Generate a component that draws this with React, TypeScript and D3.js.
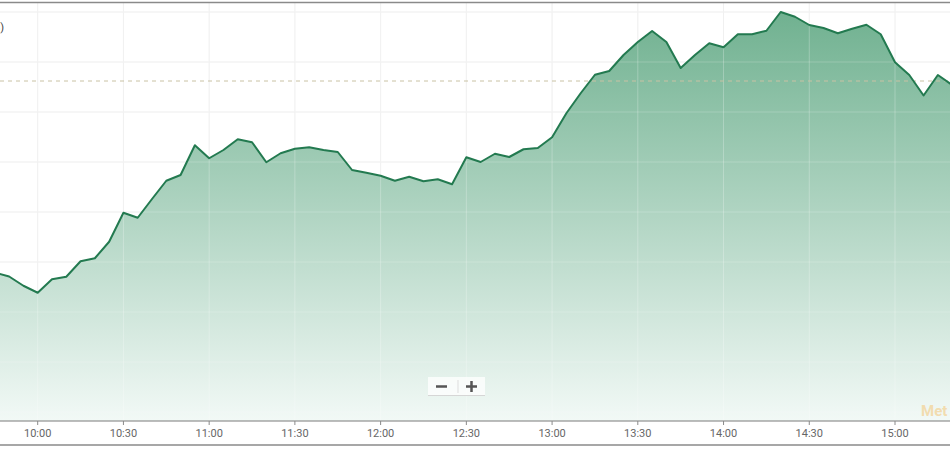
import React from "react";
import * as d3 from "d3";

const times: string[] = [
  "09:45","09:50","09:55","10:00","10:05","10:10","10:15","10:20","10:25","10:30",
  "10:35","10:40","10:45","10:50","10:55","11:00","11:05","11:10","11:15","11:20",
  "11:25","11:30","11:35","11:40","11:45","11:50","11:55","12:00","12:05","12:10",
  "12:15","12:20","12:25","12:30","12:35","12:40","12:45","12:50","12:55","13:00",
  "13:05","13:10","13:15","13:20","13:25","13:30","13:35","13:40","13:45","13:50",
  "13:55","14:00","14:05","14:10","14:15","14:20","14:25","14:30","14:35","14:40",
  "14:45","14:50","14:55","15:00","15:05","15:10","15:15","15:20"
];

const values: number[] = [
  1209.58,1209.42,1209.05,1208.77,1209.31,1209.41,1210.03,1210.15,1210.81,1211.97,
  1211.77,1212.52,1213.25,1213.48,1214.67,1214.15,1214.48,1214.91,1214.79,1213.99,
  1214.35,1214.53,1214.59,1214.48,1214.40,1213.68,1213.57,1213.45,1213.25,1213.41,
  1213.23,1213.31,1213.11,1214.19,1214.00,1214.33,1214.20,1214.51,1214.56,1214.99,
  1215.95,1216.75,1217.49,1217.64,1218.28,1218.80,1219.24,1218.80,1217.76,1218.28,
  1218.75,1218.59,1219.11,1219.11,1219.25,1220.00,1219.81,1219.48,1219.36,1219.15,
  1219.33,1219.49,1219.11,1217.99,1217.48,1216.66,1217.48,1217.08
];

const referenceValue = 1217.24;
const tickLabels: string[] = ["10:00","10:30","11:00","11:30","12:00","12:30","13:00","13:30","14:00","14:30","15:00"];
const gridValues: number[] = [1204, 1206, 1208, 1210, 1212, 1214, 1216, 1218, 1220];

const W = 950;
const H = 450;
const AXIS_Y = 421;

const parse = d3.timeParse("%H:%M");

export default function App() {
  const x = d3.scaleTime()
    .domain([parse("10:00") as Date, parse("15:00") as Date])
    .range([37.7, 895]);
  const y = d3.scaleLinear().domain([1204, 1220]).range([412, 12]);

  const data = times.map((t, i) => ({ t: parse(t) as Date, v: values[i] }));
  const line = d3.line<{ t: Date; v: number }>().x(d => x(d.t)).y(d => y(d.v));
  const area = d3.area<{ t: Date; v: number }>().x(d => x(d.t)).y0(AXIS_Y).y1(d => y(d.v));
  const fmt = d3.timeFormat("%H:%M");

  return (
    <svg width={W} height={H} style={{ position: "absolute", left: 0, top: 0, background: "#fff" }}
      fontFamily="Roboto, 'Open Sans', sans-serif">
      <defs>
        <linearGradient id="fillGrad" gradientUnits="userSpaceOnUse" x1="0" y1={12} x2="0" y2={AXIS_Y}>
          <stop offset="0" stopColor="#70b190" />
          <stop offset="1" stopColor="#f2f9f6" />
        </linearGradient>
        <clipPath id="plotClip">
          <rect x={0} y={0} width={W} height={AXIS_Y} />
        </clipPath>
      </defs>
      <rect x={0} y={0} width={W} height={H} fill="#fff" />
      {/* horizontal grid */}
      {gridValues.map(g => (
        <line key={"h" + g} x1={0} x2={W} y1={y(g)} y2={y(g)} stroke="#ececec" strokeWidth={1} />
      ))}
      {/* vertical grid */}
      {tickLabels.map(t => {
        const xx = x(parse(t) as Date);
        return <line key={"v" + t} x1={xx} x2={xx} y1={3} y2={AXIS_Y} stroke="#ececec" strokeWidth={1} />;
      })}
      <g clipPath="url(#plotClip)">
        <path d={area(data) || ""} fill="url(#fillGrad)" />
        {/* vertical grid over area (faint) */}
        {tickLabels.map(t => {
          const xx = x(parse(t) as Date);
          return <line key={"vo" + t} x1={xx} x2={xx} y1={3} y2={AXIS_Y} stroke="#ffffff" strokeOpacity={0.25} strokeWidth={1} />;
        })}
        {gridValues.map(g => (
          <line key={"ho" + g} x1={0} x2={W} y1={y(g)} y2={y(g)} stroke="#ffffff" strokeOpacity={0.2} strokeWidth={1} />
        ))}
        <line x1={0} x2={W} y1={y(referenceValue)} y2={y(referenceValue)} stroke="#c9c2a4" strokeWidth={1} strokeDasharray="4,4" />
        <path d={line(data) || ""} fill="none" stroke="#237a50" strokeWidth={2} strokeLinejoin="round" />
      </g>
      {/* y label fragment */}
      <text x={4} y={31} textAnchor="end" fontSize={11} fill="#444">(%)</text>
      {/* top border */}
      <line x1={0} x2={W} y1={2.5} y2={2.5} stroke="#8a8a8a" strokeWidth={1.5} />
      {/* x axis */}
      <line x1={0} x2={W} y1={AXIS_Y} y2={AXIS_Y} stroke="#7a7a7a" strokeWidth={1} />
      {tickLabels.map(t => {
        const d = parse(t) as Date;
        const xx = x(d);
        return (
          <g key={"t" + t}>
            <line x1={xx} x2={xx} y1={AXIS_Y} y2={AXIS_Y + 4} stroke="#8a8a8a" strokeWidth={1} />
            <text x={xx} y={437} textAnchor="middle" fontSize={11} fill="#666">{fmt(d)}</text>
          </g>
        );
      })}
      {/* bottom border */}
      <line x1={0} x2={W} y1={445} y2={445} stroke="#8a8a8a" strokeWidth={1.5} />
      {/* watermark */}
      <text x={921} y={416} fontSize={15} fontWeight="bold" fill="#f3d59c" fillOpacity={0.8}>Met</text>
      {/* zoom control */}
      <g>
        <rect x={428} y={377} width={57} height={19} fill="#ffffff" fillOpacity={0.75} />
        <line x1={428} x2={485} y1={395.5} y2={395.5} stroke="#d6d6d6" strokeWidth={1} />
        <line x1={458} x2={458} y1={380} y2={393} stroke="#dddddd" strokeWidth={1} />
        <line x1={436} x2={447} y1={386.5} y2={386.5} stroke="#555" strokeWidth={2.5} />
        <line x1={466} x2={477} y1={386.5} y2={386.5} stroke="#555" strokeWidth={2.5} />
        <line x1={471.5} x2={471.5} y1={381} y2={392} stroke="#555" strokeWidth={2.5} />
      </g>
    </svg>
  );
}
